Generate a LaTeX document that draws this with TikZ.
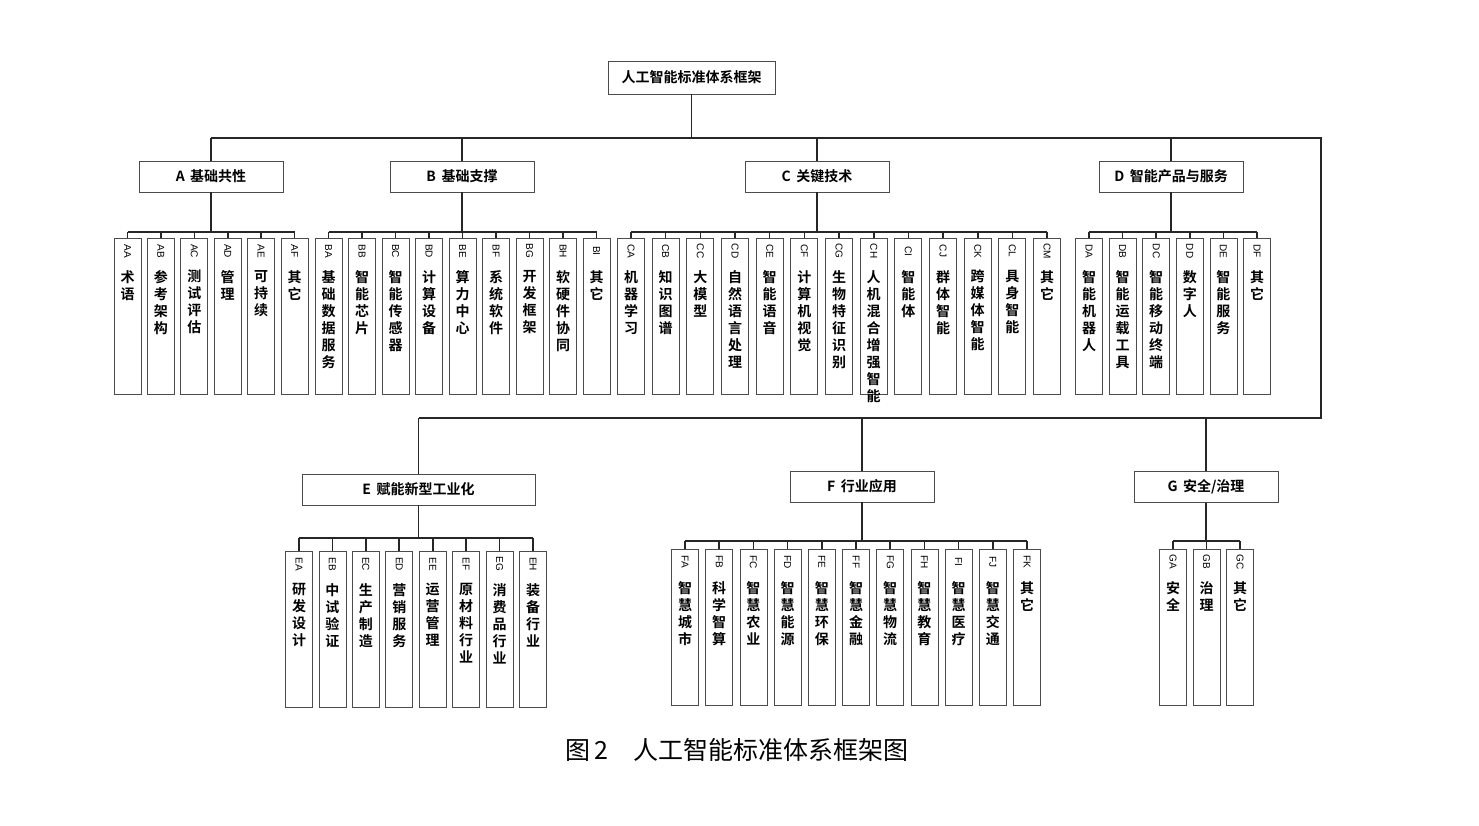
\documentclass[tikz,border=0pt]{standalone}
\usepackage{fontspec}
\setmainfont{Noto Sans CJK SC}
\newfontfamily\cjkb{Noto Sans CJK SC Bold}
\newfontfamily\codef{Liberation Sans}
\XeTeXlinebreaklocale "zh"
\XeTeXlinebreakskip=0pt plus 1pt
\begin{document}
\begin{tikzpicture}[x=1pt,y=-1pt,
  box/.style={draw=black!70,line width=0.8pt,fill=white,inner sep=0pt},
  topbox/.style={box,minimum width=167pt,minimum height=33pt,font=\cjkb\fontsize{14}{16}\selectfont},
  catbox/.style={box,minimum width=144pt,minimum height=31pt,font=\cjkb\fontsize{14}{16}\selectfont},
  leafbox/.style={box,minimum width=27pt,minimum height=156pt,anchor=north},
  leaftxt/.style={anchor=north,inner sep=0pt,text width=15pt,align=center,font=\cjkb\fontsize{14}{17}\selectfont},
  codetxt/.style={rotate=-90,inner sep=0pt,font=\codef\fontsize{10}{10}\selectfont},
  link/.style={line width=1.6pt,black!85}]
\useasboundingbox (0,0) rectangle (1479,825);
\newcommand\leaf[4]{%
  \node[leafbox] (#1) at (#2,#3) {};
  \node[codetxt] at ([yshift=-13pt]#1.north) {#1};
  \node[leaftxt] at ([yshift=-32pt]#1.north) {#4};}
% root and categories
\node[topbox] (root) at (691.5,77.5) {人工智能标准体系框架};
\coordinate (top) at (0,138);
\coordinate (mid) at (0,418);
\node[catbox] (A) at (211,176.5) {A\, 基础共性};
\node[catbox] (B) at (462,176.5) {B\, 基础支撑};
\node[catbox] (C) at (817,176.5) {C\, 关键技术};
\node[catbox] (D) at (1171,176.5) {D\, 智能产品与服务};
\node[catbox,minimum width=233pt] (E) at (418.5,489.5) {E\, 赋能新型工业化};
\node[catbox] (F) at (862,486.5) {F\, 行业应用};
\node[catbox] (G) at (1206,487) {G\, 安全/治理};
\coordinate (R) at (1321,138);
\coordinate (R2) at (1321,418);
\draw[link] (root.south) -- (root.south |- top);
\draw[link] (A.north |- top) -- (R) -- (R2) -- (E.north |- mid);
\foreach \n in {A,B,C,D} \draw[link] (\n.north) -- (\n.north |- top);
\foreach \n in {E,F,G} \draw[link] (\n.north) -- (\n.north |- mid);
% bars
\coordinate (barT) at (0,232);
\coordinate (barE) at (0,538);
\coordinate (barF) at (0,541);
% leaves
\foreach[count=\i from 0] \c/\t in {AA/术语,AB/参考架构,AC/测试评估,AD/管理,AE/可持续,AF/其它}
  {\leaf{\c}{127.5+\i*33.4}{238}{\t}\draw[link] (\c.north) -- (\c.north |- barT);}
\foreach[count=\i from 0] \c/\t in {BA/基础数据服务,BB/智能芯片,BC/智能传感器,BD/计算设备,BE/算力中心,BF/系统软件,BG/开发框架,BH/软硬件协同,BI/其它}
  {\leaf{\c}{328.5+\i*33.5}{238}{\t}\draw[link] (\c.north) -- (\c.north |- barT);}
\foreach[count=\i from 0] \c/\t in {CA/机器学习,CB/知识图谱,CC/大模型,CD/自然语言处理,CE/智能语音,CF/计算机视觉,CG/生物特征识别,CH/人机混合增强智能,CI/智能体,CJ/群体智能,CK/跨媒体智能,CL/具身智能,CM/其它}
  {\leaf{\c}{631+\i*34.67}{238}{\t}\draw[link] (\c.north) -- (\c.north |- barT);}
\foreach[count=\i from 0] \c/\t in {DA/智能机器人,DB/智能运载工具,DC/智能移动终端,DD/数字人,DE/智能服务,DF/其它}
  {\leaf{\c}{1089+\i*33.6}{238}{\t}\draw[link] (\c.north) -- (\c.north |- barT);}
\foreach[count=\i from 0] \c/\t in {EA/研发设计,EB/中试验证,EC/生产制造,ED/营销服务,EE/运营管理,EF/原材料行业,EG/消费品行业,EH/装备行业}
  {\leaf{\c}{299+\i*33.43}{551}{\t}\draw[link] (\c.north) -- (\c.north |- barE);}
\foreach[count=\i from 0] \c/\t in {FA/智慧城市,FB/科学智算,FC/智慧农业,FD/智慧能源,FE/智慧环保,FF/智慧金融,FG/智慧物流,FH/智慧教育,FI/智慧医疗,FJ/智慧交通,FK/其它}
  {\leaf{\c}{685+\i*34.2}{549}{\t}\draw[link] (\c.north) -- (\c.north |- barF);}
\foreach[count=\i from 0] \c/\t in {GA/安全,GB/治理,GC/其它}
  {\leaf{\c}{1173+\i*33.5}{549}{\t}\draw[link] (\c.north) -- (\c.north |- barF);}
\draw[link] (AA.north |- barT) -- (AF.north |- barT);
\draw[link] (BA.north |- barT) -- (BI.north |- barT);
\draw[link] (CA.north |- barT) -- (CM.north |- barT);
\draw[link] (DA.north |- barT) -- (DF.north |- barT);
\draw[link] (EA.north |- barE) -- (EH.north |- barE);
\draw[link] (FA.north |- barF) -- (FK.north |- barF);
\draw[link] (GA.north |- barF) -- (GC.north |- barF);
\foreach \n/\b in {A/barT,B/barT,C/barT,D/barT,E/barE,F/barF,G/barF} \draw[link] (\n.south) -- (\n.south |- \b);
\node[font=\fontsize{25}{28}\selectfont] (cap) at (737,750) {图\,2\quad 人工智能标准体系框架图};
\end{tikzpicture}
\end{document}
